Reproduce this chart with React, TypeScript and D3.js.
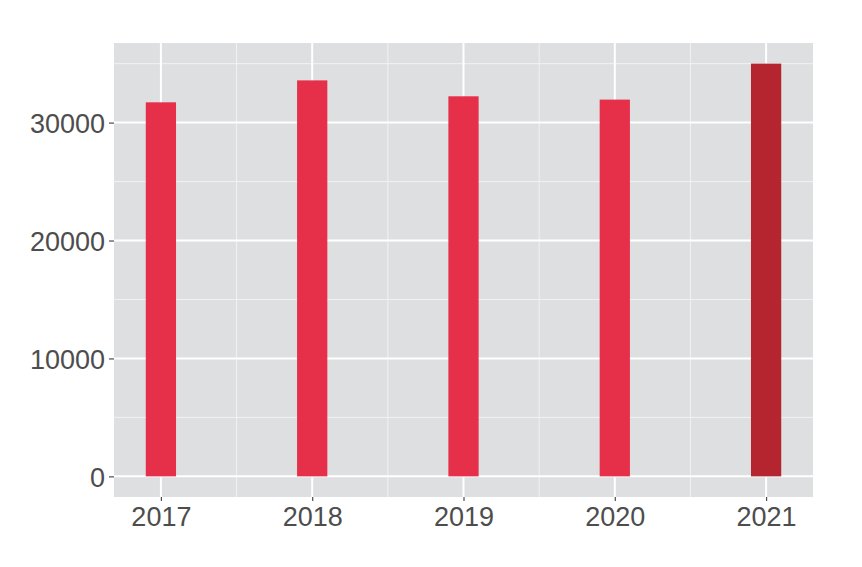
import React, { useEffect, useRef } from 'react';
import * as d3 from 'd3';

const years = [2017, 2018, 2019, 2020, 2021];
const counts = [31720, 33580, 32230, 31950, 35000];
const barColors = ['#e6304a', '#e6304a', '#e6304a', '#e6304a', '#b5252f'];
const yTicks = [0, 10000, 20000, 30000];
const yMinorTicks = [5000, 15000, 25000, 35000];
const xMinorTicks = [2017.5, 2018.5, 2019.5, 2020.5];

const App: React.FC = () => {
    const svgRef = useRef<SVGSVGElement | null>(null);

    useEffect(() => {
        const svg = d3.select(svgRef.current);
        svg.selectAll('*').remove();

        const width = 862;
        const height = 567;
        const panel = { left: 114, right: 813, top: 43, bottom: 497 };
        const barWidth = 0.2;

        // continuous x, ggplot style 5% expansion
        const xMin = d3.min(years)! - barWidth / 2;
        const xMax = d3.max(years)! + barWidth / 2;
        const xPad = (xMax - xMin) * 0.05;
        const x = d3.scaleLinear()
            .domain([xMin - xPad, xMax + xPad])
            .range([panel.left, panel.right]);

        const yMax = d3.max(counts)!;
        const yPad = yMax * 0.05;
        const y = d3.scaleLinear()
            .domain([-yPad, yMax + yPad])
            .range([panel.bottom, panel.top]);

        svg.attr('width', width).attr('height', height);

        svg.append('rect')
            .attr('x', panel.left)
            .attr('y', panel.top)
            .attr('width', panel.right - panel.left)
            .attr('height', panel.bottom - panel.top)
            .attr('fill', '#dedfe0');

        const grid = svg.append('g');
        grid.selectAll('.hminor')
            .data(yMinorTicks)
            .enter().append('line')
            .attr('x1', panel.left).attr('x2', panel.right)
            .attr('y1', d => y(d)).attr('y2', d => y(d))
            .attr('stroke', '#f2f2f2').attr('stroke-width', 1);
        grid.selectAll('.vminor')
            .data(xMinorTicks)
            .enter().append('line')
            .attr('y1', panel.top).attr('y2', panel.bottom)
            .attr('x1', d => x(d)).attr('x2', d => x(d))
            .attr('stroke', '#f2f2f2').attr('stroke-width', 1);
        grid.selectAll('.hmajor')
            .data(yTicks)
            .enter().append('line')
            .attr('x1', panel.left).attr('x2', panel.right)
            .attr('y1', d => y(d)).attr('y2', d => y(d))
            .attr('stroke', '#ffffff').attr('stroke-width', 2);
        grid.selectAll('.vmajor')
            .data(years)
            .enter().append('line')
            .attr('y1', panel.top).attr('y2', panel.bottom)
            .attr('x1', d => x(d)).attr('x2', d => x(d))
            .attr('stroke', '#ffffff').attr('stroke-width', 2);

        svg.selectAll('.bar')
            .data(years)
            .enter().append('rect')
            .attr('x', d => x(d - barWidth / 2))
            .attr('width', d => x(d + barWidth / 2) - x(d - barWidth / 2))
            .attr('y', (d, i) => y(counts[i]))
            .attr('height', (d, i) => y(0) - y(counts[i]))
            .attr('fill', (d, i) => barColors[i]);

        const xAxis = svg.append('g')
            .attr('transform', `translate(0,${panel.bottom})`)
            .call(d3.axisBottom(x).tickValues(years).tickFormat(d3.format('d')).tickSize(4).tickPadding(6));
        const yAxis = svg.append('g')
            .attr('transform', `translate(${panel.left},0)`)
            .call(d3.axisLeft(y).tickValues(yTicks).tickFormat(d3.format('d')).tickSize(5).tickPadding(4));

        [xAxis, yAxis].forEach(axis => {
            axis.select('.domain').remove();
            axis.selectAll('line').attr('stroke', '#4d4d4d').attr('stroke-width', 1.2);
            axis.selectAll('text')
                .attr('fill', '#4d4d4d')
                .style('font-family', '"Liberation Sans", Arial, sans-serif')
                .style('font-size', '27px');
        });
        yAxis.selectAll('text').attr('dy', '0.36em');
    }, []);

    return (
        <svg ref={svgRef} style={{ position: 'absolute', left: 0, top: 0, background: '#ffffff' }}></svg>
    );
};

export default App;
